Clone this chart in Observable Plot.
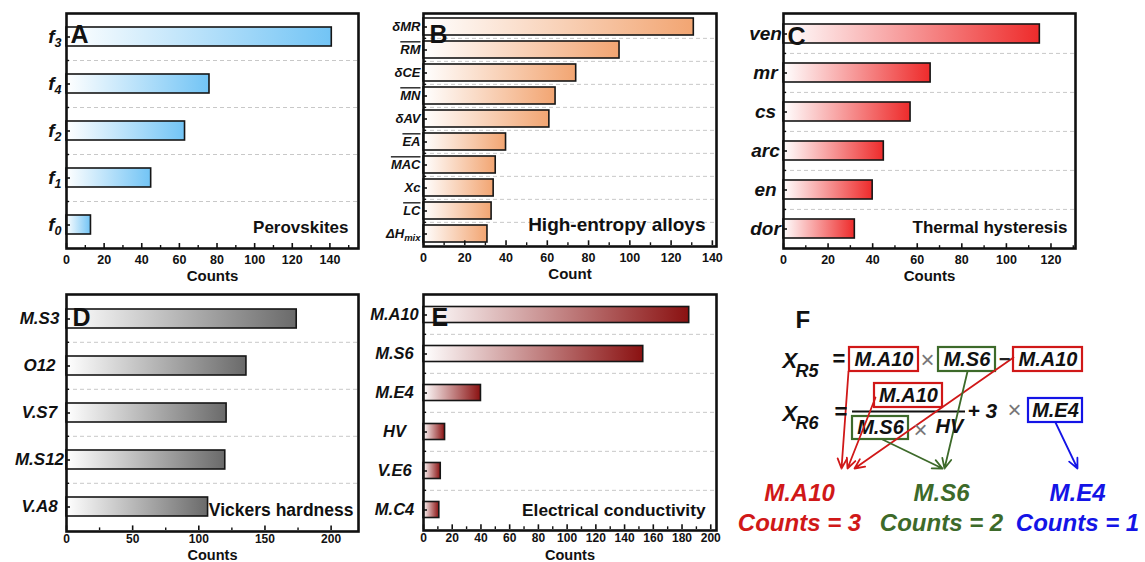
<!DOCTYPE html>
<html><head><meta charset="utf-8">
<script src="https://cdn.jsdelivr.net/npm/d3@7"></script>
<script src="https://cdn.jsdelivr.net/npm/@observablehq/plot@0.6"></script>
<style>
body{margin:0;background:#fff;}
#root{position:relative;width:1145px;height:562px;overflow:hidden;background:#fff;font-family:"Liberation Sans",Arial,sans-serif;}
#root svg{position:absolute;max-width:none;}
</style></head>
<body><div id="root"></div>
<script>
// ---------- data ----------
const perovCats = ["f3","f4","f2","f1","f0"];
const perovCounts = [141,76,63,45,13];
const heaCats = ["δMR","RM","δCE","MN","δAV","EA","MAC","Xc","LC","ΔHmix"];
const heaCounts = [131,95,74,64,61,40,35,34,33,31];
const thermCats = ["ven","mr","cs","arc","en","dor"];
const thermCounts = [115,66,57,45,40,32];
const vickCats = ["M.S3","O12","V.S7","M.S12","V.A8"];
const vickCounts = [174,136,121,120,107];
const elecCats = ["M.A10","M.S6","M.E4","HV","V.E6","M.C4"];
const elecCounts = [185,153,40,15,12,11];
const fTerms = ["M.A10","M.S6","M.E4"];
const fCounts = [3,2,1];

// ---------- helpers ----------
const NS = "http://www.w3.org/2000/svg";
const FONT = '"Liberation Sans", Arial, sans-serif';
const root = document.getElementById("root");
const range = (a,b,s) => d3.range(a,b+1e-9,s);

function subLabel(el, base, sub, shift, size) {
  el.textContent = "";
  const a = document.createElementNS(NS,"tspan"); a.textContent = base;
  const b = document.createElementNS(NS,"tspan"); b.textContent = sub;
  b.setAttribute("dy", shift); b.setAttribute("font-size", size);
  el.append(a,b);
}

function makePanel(o) {
  const n = o.cats.length;
  const [L,T,R,B] = o.frame;
  const mL = 75, mT = 20, mR = 20, mB = 50;
  const fw = R-L, fh = B-T, band = fh/n;
  const data = o.cats.map((c,i)=>({cat:c, count:o.counts[i]}));
  const last = o.cats[n-1];
  const svg = Plot.plot({
    width: fw+mL+mR, height: fh+mT+mB,
    marginLeft: mL, marginTop: mT, marginRight: mR, marginBottom: mB,
    style: {fontFamily: FONT, background: "transparent", overflow: "visible", color: "#111"},
    x: {domain: o.domain, label: null},
    y: {domain: o.cats, padding: 0, label: null},
    marks: [
      Plot.ruleY(o.cats.slice(1), {y: d=>d, dy: -band/2, stroke: "#c8c8c8", strokeWidth: 1, strokeDasharray: "4,3"}),
      Plot.barX(data, {x: "count", y: "cat", fill: `url(#grad-${o.id})`, stroke: "#161616", strokeWidth: 1.6, insetTop: o.inset, insetBottom: o.inset}),
      Plot.tickX(o.major, {x: d=>d, y: ()=>last, insetTop: band-5, stroke: "#111", strokeWidth: 1.6}),
      Plot.tickX(o.minor, {x: d=>d, y: ()=>last, insetTop: band-3, stroke: "#111", strokeWidth: 1.4}),
      Plot.tickY(o.cats, {y: d=>d, insetRight: fw-4, stroke: "#111", strokeWidth: 1.6}),
      Plot.tickY(o.cats.slice(1), {y: d=>d, dy: -band/2, insetRight: fw-3, stroke: "#111", strokeWidth: 1.4}),
      Plot.axisX({ticks: o.major, tickSize: 0, tickPadding: o.xPad, fontSize: o.xFont, fontWeight: "bold", label: null, tickFormat: d=>String(d)}),
      Plot.axisY({tickSize: 0, tickPadding: o.yPad, fontSize: o.yFont, fontWeight: "bold", fontStyle: "italic", textAnchor: o.yAnchor, label: null}),
      Plot.text([o.xLabel], {frameAnchor: "bottom", dy: o.xLabelDy, lineAnchor: "bottom", fontSize: o.xLabelSize, fontWeight: "bold", fill: "#111"}),
      Plot.frame({stroke: "#111", strokeWidth: 2.6}),
      Plot.text([o.note], {frameAnchor: "bottom-right", dx: o.noteDx, dy: o.noteDy, lineAnchor: "bottom", textAnchor: "end", fontSize: o.noteSize, fontWeight: "bold", fill: "#111"}),
      Plot.text([o.letter], {frameAnchor: "top-left", dx: o.letterDx, dy: o.letterDy, lineAnchor: "top", textAnchor: "start", fontSize: 25, fontWeight: "bold", fill: "#111"})
    ]
  });
  const defs = document.createElementNS(NS,"defs");
  defs.innerHTML = `<linearGradient id="grad-${o.id}" x1="0" x2="1" y1="0" y2="0"><stop offset="0" stop-color="#ffffff"/><stop offset="1" stop-color="${o.color}"/></linearGradient>`;
  svg.prepend(defs);
  svg.style.left = (L-mL)+"px";
  svg.style.top = (T-mT)+"px";
  if (o.post) svg.querySelectorAll('[aria-label="y-axis tick label"] text').forEach(o.post);
  root.appendChild(svg);
  // white backing box behind the panel letter (covers the bar start, as in the original)
  const texts = [...svg.querySelectorAll("text")].filter(t => t.textContent === o.letter);
  const lt = texts[texts.length-1];
  if (lt) {
    const bb = lt.getBBox();
    const r = document.createElementNS(NS,"rect");
    r.setAttribute("x", mL + 1.5);
    r.setAttribute("y", bb.y + 1);
    r.setAttribute("width", bb.x + bb.width + 1 - (mL + 1.5));
    r.setAttribute("height", bb.height - 2);
    r.setAttribute("fill", "white");
    lt.parentNode.insertBefore(r, lt);
  }
}

const topRow = {xPad:7, xFont:12.5, xLabelDy:32, xLabelSize:15};
const botRow = {xPad:3, xFont:12, xLabelDy:28, xLabelSize:14.5};

makePanel({...topRow, id:"A", cats: perovCats, counts: perovCounts, frame:[66,13,358,248], domain:[0,155.2],
  major: range(0,140,20), minor: range(10,150,20), color:"#72c4f5", inset:14,
  yFont:19, yAnchor:"end", yPad:5, letter:"A", letterDx:4, letterDy:12,
  note:"Perovskites", noteSize:17, noteDx:-10, noteDy:-16, xLabel:"Counts",
  post: el => { const t = el.textContent; subLabel(el, t[0], t.slice(1), 4, 12.5); }});

makePanel({...topRow, id:"B", cats: heaCats, counts: heaCounts, frame:[423,13,716,246], domain:[0,142],
  major: range(0,140,20), minor: range(10,130,20), color:"#f2a572", inset:3,
  yFont:13, yAnchor:"end", yPad:3, letter:"B", letterDx:6, letterDy:12,
  note:"High-entropy alloys", noteSize:19, noteDx:-11, noteDy:-16, xLabel:"Count",
  post: el => { const t = el.textContent;
    if (["RM","MN","EA","MAC","LC"].includes(t)) el.style.textDecoration = "overline";
    if (t === "ΔHmix") subLabel(el, "ΔH", "mix", 3, 9.5); }});

makePanel({...topRow, id:"C", cats: thermCats, counts: thermCounts, frame:[783,13,1075,248], domain:[0,131],
  major: range(0,120,20), minor: range(10,130,20), color:"#ee2b2b", inset:10,
  yFont:19, yAnchor:"middle", yPad:18, letter:"C", letterDx:4, letterDy:14,
  note:"Thermal hysteresis", noteSize:17, noteDx:-8, noteDy:-16, xLabel:"Counts"});

makePanel({...botRow, id:"D", cats: vickCats, counts: vickCounts, frame:[66,294,358,531], domain:[0,220.7],
  major: range(0,200,50), minor: range(25,175,50), color:"#6a6a6a", inset:14,
  yFont:17, yAnchor:"middle", yPad:27, letter:"D", letterDx:6, letterDy:14,
  note:"Vickers hardness", noteSize:17.5, noteDx:-5, noteDy:-16, xLabel:"Counts"});

makePanel({...botRow, id:"E", cats: elecCats, counts: elecCounts, frame:[423,294,716,530], domain:[0,204],
  major: range(0,200,20), minor: range(10,190,20), color:"#8a1111", inset:11.5,
  yFont:16.5, yAnchor:"middle", yPad:29, letter:"E", letterDx:8, letterDy:14,
  note:"Electrical conductivity", noteSize:17.3, noteDx:-11, noteDy:-15, xLabel:"Counts", xLabelDy:29});

// ---------- panel F (formula diagram) ----------
const fColors = ["#d01818","#3d6a2a","#1414e6"];
const boxes = [
  {t:0, x1:129, x2:198, y1:62,  y2:86},
  {t:1, x1:218, x2:275, y1:62,  y2:86},
  {t:0, x1:293, x2:362, y1:62,  y2:86},
  {t:0, x1:154, x2:222, y1:98,  y2:122},
  {t:1, x1:132, x2:188, y1:131, y2:154},
  {t:2, x1:308, x2:362, y1:113, y2:137}
];
const links = [
  {t:0, x1:128, y1:86,  x2:121, y2:183},
  {t:0, x1:155, y1:112, x2:127, y2:183},
  {t:0, x1:293, y1:72,  x2:134, y2:183},
  {t:1, x1:162, y1:154, x2:222, y2:183},
  {t:1, x1:247, y1:86,  x2:224, y2:183},
  {t:2, x1:335, y1:137, x2:357, y2:183}
];
const biText = [
  {s:"X",  x:62,  y:82,  f:22},
  {s:"R5", x:75,  y:91,  f:18},
  {s:"X",  x:62,  y:135, f:22},
  {s:"R6", x:75,  y:143, f:18},
  {s:"HV", x:215, y:147, f:20},
  {s:"+ 3",x:247, y:132, f:21}
];
const plainBold = [
  {s:"F", x:75,  y:42,  f:24},
  {s:"=", x:112, y:80,  f:22},
  {s:"=", x:114, y:133, f:22}
];
const minusSign = [{x:284, y:80}];
const timesSigns = [
  {x:207, y:82}, {x:200, y:152}, {x:294, y:132}
];
const bottomLabels = fTerms.map((t,i)=>({t:i, name:t, label:`Counts = ${fCounts[i]}`, x:[79,221,357][i]}));

const F = Plot.plot({
  width: 425, height: 277, margin: 0,
  x: {domain:[0,425], axis:null}, y: {domain:[0,277], axis:null, reverse:true},
  color: {type:"identity"},
  style: {fontFamily: FONT, background:"transparent", overflow:"visible"},
  marks: [
    Plot.rect(boxes, {x1:"x1", x2:"x2", y1:"y1", y2:"y2", fill:"white", stroke: d=>fColors[d.t], strokeWidth:2.2}),
    Plot.text(boxes, {x: d=>(d.x1+d.x2)/2, y: d=>(d.y1+d.y2)/2, text: d=>fTerms[d.t], fontSize:20, fontWeight:"bold", fontStyle:"italic", fill:"#111"}),
    Plot.ruleY([126], {x1:132, x2:245, stroke:"#111", strokeWidth:2}),
    Plot.arrow(links, {x1:"x1", y1:"y1", x2:"x2", y2:"y2", stroke: d=>fColors[d.t], strokeWidth:1.8, headLength:9, headAngle:50}),
    Plot.text(biText, {x:"x", y:"y", text:"s", fontSize:"f", textAnchor:"start", lineAnchor:"bottom", fontWeight:"bold", fontStyle:"italic", fill:"#111"}),
    Plot.text(plainBold, {x:"x", y:"y", text:"s", fontSize:"f", textAnchor: "start", lineAnchor:"bottom", fontWeight:"bold", fill:"#111"}),
    Plot.text(minusSign, {x:"x", y:"y", text:()=>"−", fontSize:20, lineAnchor:"bottom", fontWeight:"bold", fill:"#222"}),
    Plot.text(timesSigns, {x:"x", y:"y", text:()=>"×", fontSize:24, lineAnchor:"bottom", fill:"#777"}),
    Plot.text(bottomLabels, {x:"x", y:()=>215, text:"name", fontSize:24, lineAnchor:"bottom", fontWeight:"bold", fontStyle:"italic", fill: d=>fColors[d.t]}),
    Plot.text(bottomLabels, {x:"x", y:()=>245, text:"label", fontSize:24, lineAnchor:"bottom", fontWeight:"bold", fontStyle:"italic", fill: d=>fColors[d.t]})
  ]
});
F.style.left = "720px"; F.style.top = "285px";
root.appendChild(F);
</script></body></html>
